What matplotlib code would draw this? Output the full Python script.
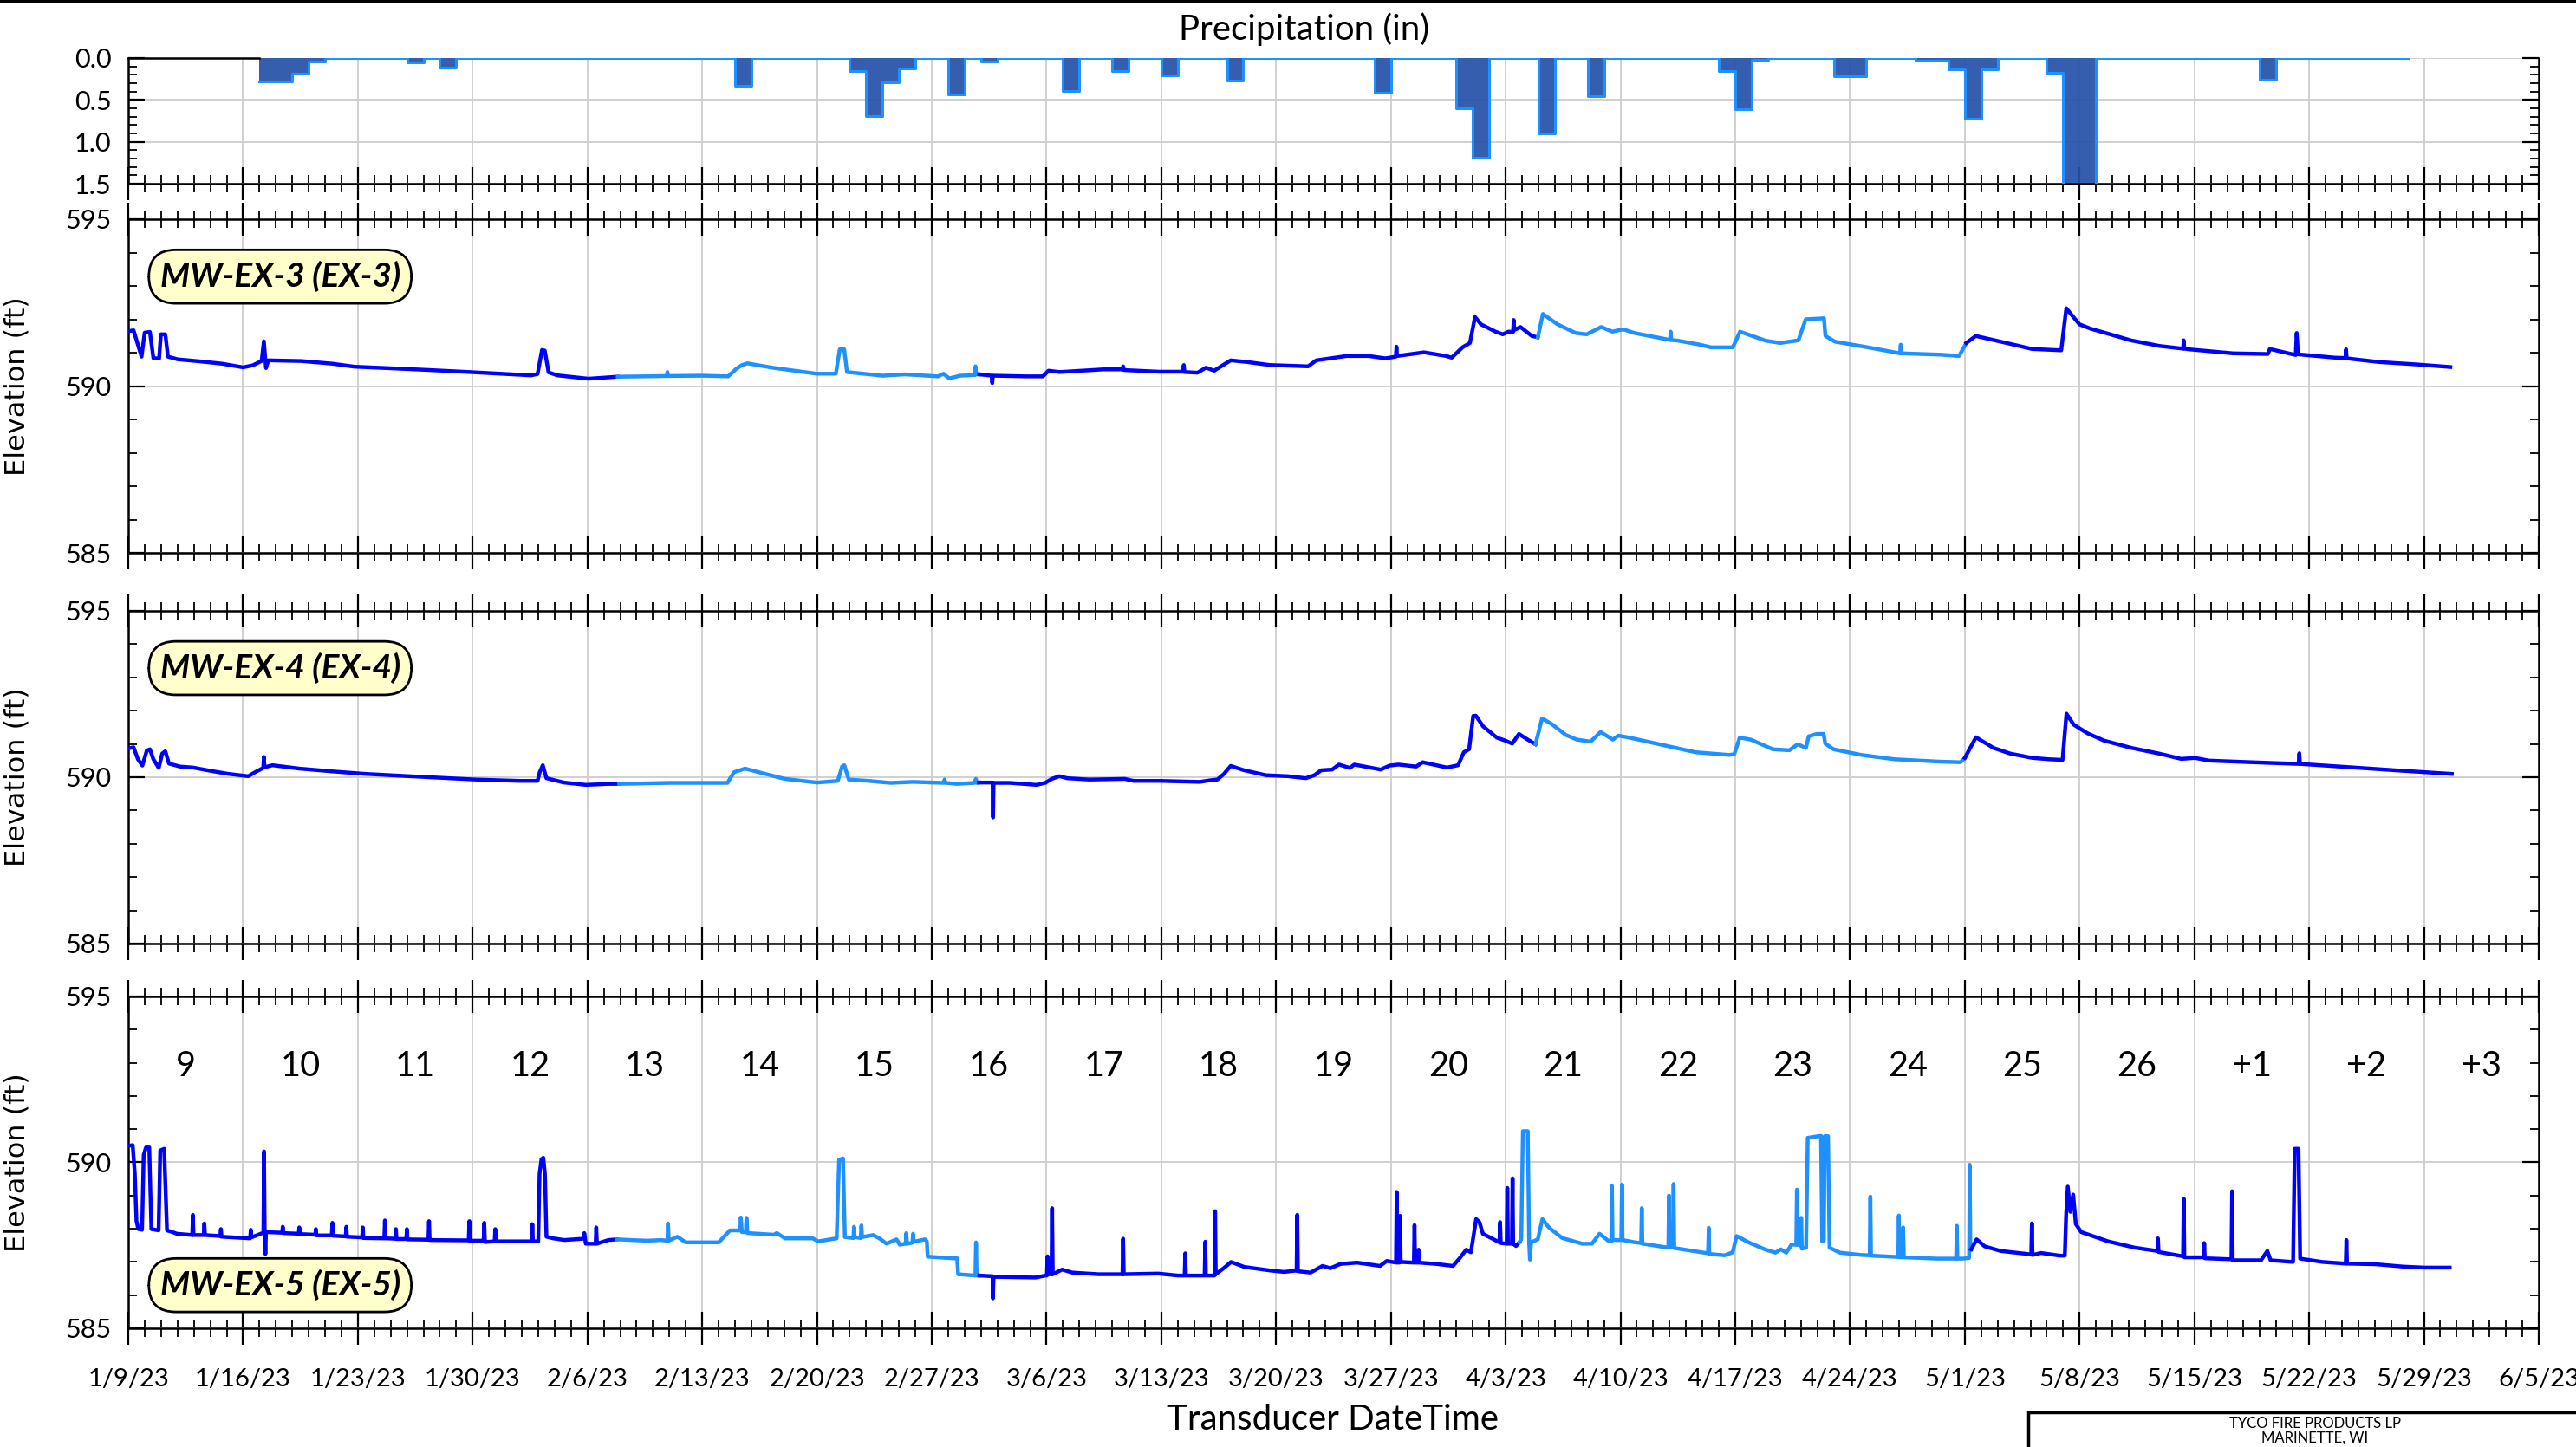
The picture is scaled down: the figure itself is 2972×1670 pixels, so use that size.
import numpy as np
import pandas as pd
import matplotlib
matplotlib.use('Agg')
import matplotlib.pyplot as plt
import matplotlib.dates as mdates
from matplotlib.ticker import MultipleLocator, FuncFormatter, FormatStrFormatter
from matplotlib.patches import Rectangle
from matplotlib.lines import Line2D

plt.rcParams['font.family'] = ['Lato', 'DejaVu Sans']

START = pd.Timestamp('2023-01-09')
END = pd.Timestamp('2023-06-05')

# daily precipitation (in); days not listed are 0 within the record
rain_dates = ['2023-01-17', '2023-01-18', '2023-01-19', '2023-01-20', '2023-01-26', '2023-01-28',
              '2023-02-15', '2023-02-22', '2023-02-23', '2023-02-24', '2023-02-25', '2023-02-28',
              '2023-03-02', '2023-03-07', '2023-03-10', '2023-03-13', '2023-03-17', '2023-03-26',
              '2023-03-31', '2023-04-01', '2023-04-05', '2023-04-08', '2023-04-16', '2023-04-17',
              '2023-04-18', '2023-04-23', '2023-04-24', '2023-04-28', '2023-04-29', '2023-04-30',
              '2023-05-01', '2023-05-02', '2023-05-06', '2023-05-07', '2023-05-08', '2023-05-19']
rain_in = [0.28, 0.28, 0.19, 0.04, 0.05, 0.11,
           0.33, 0.16, 0.69, 0.29, 0.12, 0.43,
           0.04, 0.39, 0.15, 0.21, 0.27, 0.41,
           0.60, 1.19, 0.90, 0.45, 0.16, 0.61,
           0.02, 0.22, 0.22, 0.03, 0.03, 0.13,
           0.72, 0.13, 0.18, 1.60, 1.60, 0.26]
rain_first, rain_last = '2023-01-17', '2023-05-27'

# transducer elevations (ft), x = days after 1/9/23
ex3_day = [0, 0.32, 0.81, 1.0, 1.32, 1.53, 1.88, 1.99, 2.26, 2.42, 3.02, 4.36, 5.71, 7.0, 7.59, 8.13, 8.27, 8.4,
           8.54, 10.55, 12.44, 13.79, 15.67, 18.36, 20.79, 24.56, 24.96, 25.23, 25.4, 25.63, 26.17, 28.06, 29.85,
           32.84, 32.88, 32.92, 35.0, 36.58, 37.09, 37.43, 37.76, 39.28, 41.97, 43.15, 43.39, 43.66, 43.83, 46.0,
           47.36, 49.38, 49.72, 50.06, 50.73, 51.63, 51.67, 51.71, 51.9,
           52.65, 52.69, 52.73, 54.77, 55.78, 56.12, 56.79, 59.49, 60.63, 60.67, 60.71, 62.85, 64.33, 64.37, 64.41,
           65.21, 65.72, 66.22, 67.23, 68.24, 69.59, 71.95, 72.45, 74.3, 75.65, 76.66, 77.3, 77.34, 77.38, 79.02,
           80.37, 80.71, 81.37, 81.82, 82.13, 82.49, 83.38, 83.82, 84.18, 84.45, 84.49, 84.53, 84.71, 84.9, 85.6,
           85.96,
           86.27, 87.16, 88.27, 88.94, 89.83, 90.5, 91.17, 91.84, 93.62, 94.02, 94.06, 94.1, 94.51, 95.84, 96.51,
           97.85, 98.29, 99.85, 100.74, 101.85, 102.3, 103.41, 103.5, 104.08, 106.08, 108.05, 108.09, 108.13,
           110.54, 111.65, 112.09,
           112.67, 114.54, 116.1, 117.88, 118.19, 118.55, 118.99, 119.66, 121.22, 122.11, 123.89, 125.31, 125.35,
           125.39, 125.67, 128.35, 130.48, 130.6, 132.18, 132.24, 132.32, 134.58, 135.21, 135.25, 135.29, 137.25,
           139.48, 141.61]
ex3_elev = [591.64, 591.67, 590.88, 591.60, 591.62, 590.84, 590.82, 591.55, 591.55, 590.88, 590.80, 590.74, 590.67,
            590.56, 590.62, 590.75, 591.34, 590.54, 590.77, 590.75, 590.67, 590.58, 590.54, 590.48, 590.42, 590.32,
            590.36, 591.08, 591.06, 590.41, 590.32, 590.22, 590.28,
            590.30, 590.42, 590.30, 590.31, 590.29, 590.52, 590.63, 590.68, 590.55, 590.37, 590.37, 591.10, 591.10,
            590.42, 590.31, 590.35, 590.29, 590.37, 590.23, 590.31, 590.33, 590.59, 590.35, 590.35,
            590.31, 590.09, 590.31, 590.29, 590.29, 590.46, 590.42, 590.50, 590.50, 590.59, 590.48, 590.43, 590.43,
            590.63, 590.42, 590.40, 590.55, 590.46, 590.77, 590.72, 590.63, 590.59, 590.77, 590.90, 590.90, 590.83,
            590.88, 591.18, 590.90, 591.01, 590.90, 590.85, 591.16, 591.29, 592.07, 591.85, 591.63, 591.55, 591.63,
            591.62, 591.98, 591.68, 591.72, 591.77, 591.50, 591.46,
            592.16, 591.85, 591.59, 591.55, 591.77, 591.63, 591.70, 591.59, 591.42, 591.38, 591.63, 591.38, 591.36,
            591.24, 591.16, 591.16, 591.63, 591.36, 591.29, 591.37, 592.00, 592.03, 591.50, 591.33, 591.16, 590.98,
            591.24, 590.98, 590.94, 590.90, 591.29,
            591.50, 591.29, 591.11, 591.07, 592.33, 592.11, 591.85, 591.72, 591.50, 591.37, 591.20, 591.12, 591.37,
            591.12, 591.10, 590.98, 590.96, 591.11, 590.93, 591.59, 590.95, 590.85, 590.84, 591.10, 590.83, 590.72,
            590.65, 590.57]
ex3_breaks = [29.85, 51.9, 85.96, 112.09]

ex4_day = [0.03, 0.32, 0.59, 0.86, 1.13, 1.32, 1.53, 1.86, 2.07, 2.26, 2.48, 3.15, 3.96, 5.03, 6.11, 7.32, 7.73, 8.23,
           8.27, 8.31, 8.8, 10.42, 12.57, 14.46, 17.15, 21.19, 23.88, 24.96, 25.09, 25.28, 25.5, 26.57, 27.92, 29.27,
           29.94,
           33.04, 36.54, 36.94, 37.61, 38.69, 40.04, 42.0, 43.27, 43.53, 43.67, 43.94, 45.15, 46.5, 47.84, 49.73,
           49.78, 49.85, 50.54, 51.61, 51.69, 51.75, 51.88,
           52.71, 52.74, 52.77, 53.77, 55.38, 55.92, 56.32, 56.78, 57.27, 58.61, 60.77, 61.31, 62.92, 65.34, 66.02,
           66.42, 66.82, 67.23, 68.04, 69.38, 70.73, 71.81, 72.34, 72.75, 73.42, 73.83, 74.5, 74.77, 76.38, 76.92,
           77.46, 78.54, 78.94, 80.42, 81.1, 81.45, 81.77, 82.02, 82.18, 82.62, 83.46, 83.97, 84.4, 84.81, 85.31,
           85.82,
           86.22, 86.83, 87.67, 88.34, 89.18, 89.79, 90.53, 90.87, 91.54, 93.56, 95.58, 97.6, 97.94, 98.27, 98.95,
           100.29, 101.3, 101.81, 102.31, 102.48, 102.98, 103.39, 103.49, 103.99, 105.68, 107.7, 110.39, 111.74,
           112.0,
           112.68, 113.75, 114.77, 116.11, 117.12, 117.96, 118.2, 118.64, 119.48, 120.49, 122.17, 123.85, 125.2,
           126.04, 126.88, 129.51, 132.36, 132.4, 132.44, 135.5, 138.5, 141.7]
ex4_elev = [590.87, 590.90, 590.54, 590.35, 590.80, 590.84, 590.54, 590.28, 590.71, 590.78, 590.41, 590.32, 590.29,
            590.19, 590.10, 590.03, 590.15, 590.28, 590.61, 590.30, 590.36, 590.26, 590.17, 590.10, 590.03, 589.93,
            589.89, 589.89, 590.15, 590.36, 589.97, 589.84, 589.77, 589.80, 589.80,
            589.83, 589.83, 590.15, 590.26, 590.12, 589.95, 589.84, 589.89, 590.32, 590.36, 589.93, 589.89, 589.83,
            589.86, 589.83, 589.93, 589.83, 589.80, 589.83, 589.95, 589.83, 589.84,
            589.84, 588.79, 589.83, 589.83, 589.77, 589.83, 589.95, 590.03, 589.97, 589.93, 589.95, 589.89, 589.89,
            589.86, 589.91, 589.93, 590.10, 590.34, 590.21, 590.06, 590.03, 589.97, 590.06, 590.21, 590.23, 590.38,
            590.28, 590.38, 590.23, 590.35, 590.38, 590.32, 590.45, 590.29, 590.36, 590.75, 590.84, 591.84, 591.85,
            591.53, 591.19, 591.10, 591.01, 591.30, 591.14, 590.99,
            591.77, 591.59, 591.27, 591.13, 591.07, 591.36, 591.13, 591.25, 591.19, 590.97, 590.75, 590.67, 590.69,
            591.19, 591.13, 590.84, 590.81, 590.99, 590.88, 591.23, 591.30, 591.30, 591.01, 590.84, 590.67, 590.54,
            590.47, 590.45, 590.58,
            591.20, 590.88, 590.71, 590.58, 590.54, 590.52, 591.91, 591.58, 591.32, 591.10, 590.88, 590.71, 590.55,
            590.58, 590.50, 590.45, 590.40, 590.72, 590.40, 590.30, 590.20, 590.10]
ex4_breaks = [29.94, 51.88, 85.82, 112.0]

ex5_day = [0, 0.27, 0.4, 0.5, 0.61, 0.84, 0.94, 1.08, 1.28, 1.41, 1.85, 1.95, 2.19, 2.36, 2.69, 2.96, 3.9, 3.94,
           3.98, 4.6, 4.64, 4.68, 5.61, 5.65, 5.69, 7.43, 7.47, 7.51, 8.24, 8.28, 8.32, 8.36, 8.4, 9.38, 9.42, 9.46,
           10.39, 10.43, 10.47, 11.4, 11.44, 11.48, 12.41, 12.45, 12.49, 13.26, 13.3, 13.34, 14.26, 14.3, 14.34,
           15.61, 15.65, 15.69, 16.28, 16.32, 16.36, 16.95, 16.99, 17.03, 18.3, 18.34, 18.38, 20.76, 20.8, 20.84,
           21.67, 21.71, 21.75, 22.34, 22.38, 22.42, 24.6, 24.64, 24.68, 25.0, 25.08, 25.2, 25.31, 25.41, 25.5,
           25.92, 26.59, 27.77, 27.81, 27.9, 28.5, 28.54, 28.58, 29.28, 29.79,
           31.64, 32.48, 32.88, 32.92, 32.96, 33.49, 34.0, 36.01, 36.69, 37.32, 37.36, 37.42, 37.66, 37.7, 37.76,
           39.38, 39.55, 40.05, 41.74, 42.07, 43.2, 43.35, 43.59, 43.7, 44.22, 44.26, 44.3, 44.67, 44.71, 44.75,
           45.43, 45.84, 46.24, 46.85, 47.05, 47.41, 47.45, 47.49, 47.82, 47.86, 47.9, 48.59, 48.7, 48.75, 50.28,
           50.55, 50.61, 51.66, 51.7, 51.74, 51.9,
           52.71, 52.73, 52.77, 55.33, 55.94, 56.02, 56.06, 56.1, 56.3, 56.34, 56.38, 56.95, 57.56, 59.17, 60.63,
           60.67, 60.71, 62.81, 64.02, 64.42, 64.46, 64.5, 65.64, 65.68, 65.72, 66.24, 66.28, 66.32, 66.85, 67.25,
           68.06, 69.68, 70.48, 71.25, 71.29, 71.33, 72.1, 72.83, 73.31, 73.92, 74.93, 76.34, 76.75, 77.31, 77.35,
           77.39, 77.52, 77.56, 77.6, 78.4, 78.44, 78.48, 78.65, 78.69, 78.73, 79.78, 80.79, 81.19, 81.6, 81.88,
           82.2, 82.4, 82.61, 83.62, 83.66, 83.7, 84.06, 84.1, 84.14, 84.38, 84.42, 84.46, 84.63, 84.83,
           84.95, 85.05, 85.35, 85.43, 85.48, 85.55, 85.96, 86.24, 86.65, 87.45, 88.67, 89.27, 89.72, 90.28, 90.44,
           90.48, 90.52, 91.05, 91.09, 91.13, 91.9, 92.26, 92.3, 92.34, 93.92, 93.96, 94.0, 94.2, 94.24, 94.28,
           96.34, 96.38, 96.42, 97.35, 97.84, 98.08, 98.82, 99.8, 100.45, 100.78, 101.11, 101.43, 101.72, 101.76,
           101.8, 101.98, 102.02, 102.06, 102.32, 102.42, 103.23, 103.3, 103.4, 103.46, 103.66, 103.75, 104.38,
           105.69, 106.2, 106.24, 106.28, 107.94, 107.98, 108.02, 108.2, 108.24, 108.28, 110.27, 111.47, 111.51,
           111.55, 111.9, 112.26, 112.3, 112.34, 112.39,
           112.72, 113.21, 114.19, 115.83, 116.05, 116.09, 116.13, 116.65, 117.79, 118.1, 118.18, 118.28, 118.44,
           118.61, 118.77, 119.1, 120.74, 122.37, 123.74, 123.78, 123.82, 125.31, 125.35, 125.39, 126.56, 126.6,
           126.64, 128.26, 128.3, 128.34, 130.06, 130.45, 130.65, 132.02, 132.12, 132.35, 132.45, 133.82, 135.23,
           135.27, 135.31, 137.09, 138.73, 140.04, 141.57]
ex5_elev = [590.50, 590.52, 589.65, 588.23, 587.99, 587.97, 590.22, 590.45, 590.45, 587.99, 587.95, 590.36, 590.41,
            587.95, 587.90, 587.85, 587.81, 588.42, 587.81, 587.81, 588.16, 587.81, 587.78, 587.99, 587.76, 587.71,
            587.97, 587.74, 587.88, 590.33, 587.90, 587.24, 587.90, 587.88, 588.06, 587.87,
            587.85, 588.04, 587.84, 587.82, 587.99, 587.80, 587.80, 588.18, 587.79, 587.77, 588.06, 587.76, 587.74,
            588.04, 587.72, 587.71, 588.25, 587.71, 587.70, 587.99, 587.69, 587.69, 587.99, 587.68, 587.67, 588.23,
            587.66, 587.65, 588.23, 587.64, 587.64, 588.18, 587.60, 587.62, 587.99, 587.62, 587.62, 588.14, 587.62,
            587.62, 589.65, 590.10, 590.14, 589.65, 587.76, 587.71, 587.66, 587.70, 587.87, 587.55, 587.55, 588.04,
            587.55, 587.66, 587.68,
            587.64, 587.66, 587.64, 588.16, 587.64, 587.76, 587.59, 587.59, 587.95, 587.95, 588.34, 587.90, 587.90,
            588.33, 587.87, 587.82, 587.87, 587.71, 587.71, 587.62, 587.71, 590.08, 590.12, 587.75, 587.72, 588.06,
            587.75, 587.72, 588.10, 587.75, 587.81, 587.70, 587.55, 587.68, 587.52, 587.55, 587.87, 587.55, 587.58,
            587.85, 587.61, 587.68, 587.62, 587.16, 587.11, 587.11, 586.63, 586.59, 587.59, 586.59, 586.59,
            586.57, 585.90, 586.55, 586.53, 586.59, 586.59, 587.17, 586.63, 586.63, 588.62, 586.63, 586.77, 586.68,
            586.63, 586.63, 587.70, 586.63, 586.65, 586.59, 586.59, 587.26, 586.59, 586.59, 587.61, 586.59, 586.59,
            588.53, 586.63, 586.83, 587.00, 586.85, 586.74, 586.70, 586.74, 588.42, 586.72, 586.68, 586.88, 586.81,
            586.94, 586.98, 586.88, 587.03, 586.98, 589.11, 586.98, 586.98, 588.39, 587.00, 586.98, 588.11, 586.98,
            586.98, 587.37, 586.98, 586.94, 586.88, 587.11, 587.37, 587.29, 588.29, 588.20, 587.85, 587.59, 588.20,
            587.57, 587.55, 589.23, 587.55, 587.55, 589.52, 587.55, 587.48, 587.59,
            587.68, 590.94, 590.94, 587.59, 587.07, 587.59, 587.68, 588.29, 588.03, 587.72, 587.55, 587.55, 587.85,
            587.63, 587.63, 589.29, 587.66, 587.66, 589.33, 587.66, 587.59, 587.57, 588.62, 587.55, 587.43, 589.00,
            587.45, 587.45, 589.35, 587.42, 587.26, 588.03, 587.24, 587.20, 587.29, 587.78, 587.59, 587.38, 587.28,
            587.38, 587.28, 587.52, 587.52, 589.18, 587.52, 587.50, 588.33, 587.40, 587.43, 590.74, 590.80, 587.62,
            587.62, 590.79, 590.79, 587.43, 587.28, 587.21, 587.20, 588.97, 587.19, 587.15, 588.40, 587.14, 587.14,
            588.04, 587.14, 587.10, 587.10, 588.09, 587.10, 587.10, 587.12, 589.93, 587.38, 587.38,
            587.68, 587.47, 587.33, 587.24, 587.22, 588.16, 587.21, 587.27, 587.19, 587.19, 588.42, 589.27, 588.51,
            589.03, 588.14, 587.90, 587.62, 587.43, 587.33, 587.71, 587.30, 587.17, 588.91, 587.14, 587.14, 587.57,
            587.11, 587.08, 589.13, 587.05, 587.05, 587.33, 587.05, 587.00, 590.41, 590.41, 587.10, 587.00, 586.95,
            587.66, 586.95, 586.93, 586.86, 586.83, 586.83]
ex5_breaks = [29.79, 51.9, 84.83, 112.39]

well_names = ['MW-EX-3 (EX-3)', 'MW-EX-4 (EX-4)', 'MW-EX-5 (EX-5)']
week_labels = ['9', '10', '11', '12', '13', '14', '15', '16', '17', '18', '19', '20', '21', '22', '23',
               '24', '25', '26', '+1', '+2', '+3']

W, H = 2972, 1670
fig = plt.figure(figsize=(W / 100, H / 100), dpi=100)


def box(top, bottom):
    return [148 / W, 1 - bottom / H, (2929 - 148) / W, (bottom - top) / H]


ax0 = fig.add_axes(box(67, 212))
ax1 = fig.add_axes(box(253, 638))
ax2 = fig.add_axes(box(705, 1089))
ax3 = fig.add_axes(box(1150, 1533))
axes = [ax0, ax1, ax2, ax3]

weeks = pd.date_range(START, END, freq='7D')


def date_fmt(x, pos=None):
    d = mdates.num2date(x)
    return f'{d.month}/{d.day}/{d.year % 100}'


for ax in axes:
    ax.set_xlim(START, END)
    ax.set_xticks(weeks)
    ax.xaxis.set_minor_locator(mdates.DayLocator())
    ax.xaxis.set_major_formatter(FuncFormatter(date_fmt))
    ax.grid(which='major', color='#d0d0d0', lw=1.4)
    ax.set_axisbelow(True)
    for s in ax.spines.values():
        s.set_linewidth(1.8)
    ax.tick_params(axis='x', which='major', direction='inout', length=28, width=1.6,
                   top=(ax is not ax0), labelbottom=False, labelsize=21, pad=19)
    ax.tick_params(axis='x', which='minor', direction='inout', length=14, width=1.3, top=(ax is not ax0))
    ax.tick_params(axis='y', which='major', direction='in', length=14, width=1.6, right=True,
                   labelsize=22, pad=14)
    ax.tick_params(axis='y', which='minor', direction='in', length=7, width=1.3, right=True)

# precipitation panel
rec = pd.date_range(rain_first, rain_last, freq='D')
daily = pd.Series(rain_in, index=pd.to_datetime(rain_dates)).reindex(rec, fill_value=0.0)
edges = rec.append(pd.DatetimeIndex([rec[-1] + pd.Timedelta(days=1)]))
vals = np.append(daily.values, daily.values[-1])
ax0.fill_between(edges, vals, step='post', color='#2553a8', alpha=0.93, lw=0, zorder=2)
ax0.step(edges, vals, where='post', color='#1e90ff', lw=2.2, zorder=3)
ax0.set_ylim(1.5, 0)
ax0.set_yticks([0, 0.5, 1.0, 1.5])
ax0.yaxis.set_minor_locator(MultipleLocator(0.1))
ax0.yaxis.set_major_formatter(FormatStrFormatter('%.1f'))
ax0.spines['top'].set_bounds(mdates.date2num(START), mdates.date2num(rec[0]))

# elevation panels
cols = ['#0000ff', '#1e90ff']
series = [(ex3_day, ex3_elev, ex3_breaks), (ex4_day, ex4_elev, ex4_breaks), (ex5_day, ex5_elev, ex5_breaks)]
for ax, (d, e, br), name in zip(axes[1:], series, well_names):
    d = np.asarray(d)
    e = np.asarray(e)
    t = START + pd.to_timedelta(d, unit='D')
    lims = [d[0]] + br + [d[-1]]
    for k in range(len(lims) - 1):
        m = (d >= lims[k]) & (d <= lims[k + 1])
        ax.plot(t[m], e[m], color=cols[k % 2], lw=3.2, zorder=3)
    ax.set_ylim(585, 595)
    ax.set_yticks([585, 590, 595])
    ax.yaxis.set_minor_locator(MultipleLocator(1))
    ax.set_ylabel('Elevation (ft)', family='DejaVu Sans', fontsize=23)
    ax.yaxis.set_label_coords((36 - 148) / (2929 - 148), 0.5)
    ypos = 0.13 if ax is ax3 else 0.828
    ax.text(0.063, ypos, name, transform=ax.transAxes, ha='center', va='center', fontsize=28,
            fontweight='bold', fontstyle='italic', zorder=5,
            bbox=dict(boxstyle='round,pad=0.33,rounding_size=0.8', fc='#ffffcc', ec='black', lw=2))

ax3.tick_params(axis='x', which='major', labelbottom=True)
for k, lbl in enumerate(week_labels):
    ax3.text(weeks[k] + pd.Timedelta(hours=84), 592.9, lbl, ha='center', va='center', fontsize=28.5, zorder=4)

fig.text(1505 / W, 1 - 34 / H, 'Precipitation (in)', ha='center', va='center', fontsize=29)
fig.text(1538 / W, 1 - 1638 / H, 'Transducer DateTime', ha='center', va='center', fontsize=29)

# title block at the page corner and top border
fig.add_artist(Rectangle((2340 / W, -0.05), 0.3, 0.05 + 40 / H, transform=fig.transFigure,
                         fill=False, ec='black', lw=2.5, clip_on=False))
fig.text(2671 / W, 1 - 1643 / H, 'TYCO FIRE PRODUCTS LP', ha='center', va='center', fontsize=12)
fig.text(2671 / W, 1 - 1660 / H, 'MARINETTE, WI', ha='center', va='center', fontsize=12)
fig.add_artist(Line2D([0, 1], [1 - 1 / H, 1 - 1 / H], transform=fig.transFigure, color='black', lw=3))

fig.savefig('out.png', dpi=100)
